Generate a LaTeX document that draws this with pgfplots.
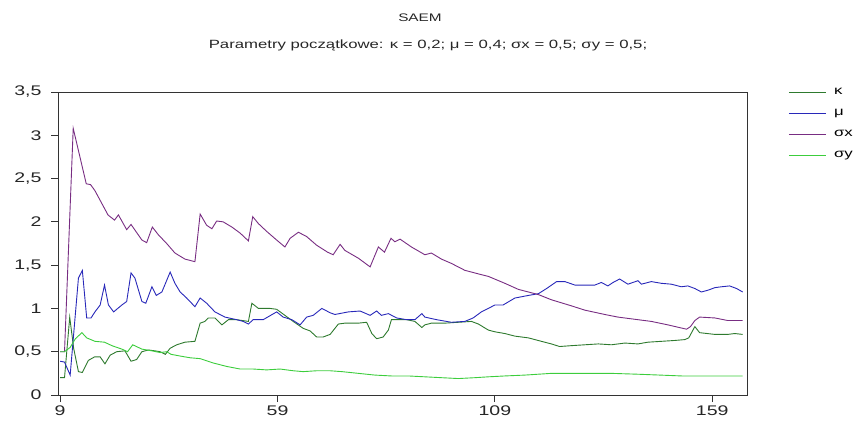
\documentclass[border=0pt]{standalone}
\usepackage{pgfplots}
\pgfplotsset{compat=1.18}
\usepackage{fontspec}
\setmainfont[FakeStretch=1.4]{Liberation Sans}
\definecolor{kap}{RGB}{46,122,46}
\definecolor{muc}{RGB}{40,40,185}
\definecolor{sgx}{RGB}{120,45,130}
\definecolor{sgy}{RGB}{60,205,60}
\begin{document}
\begin{tikzpicture}
\begin{axis}[name=ax, scale only axis, width=689bp, height=303bp,
  xmin=8.5, xmax=167, ymin=0, ymax=3.5,
  xtick={9,59,109,159}, ytick={0,0.5,1,1.5,2,2.5,3,3.5},
  tick align=outside, xtick pos=bottom, ytick pos=left,
  major tick length=7bp,
  axis line style={black!80, line width=0.8bp},
  every tick/.style={black!80, line width=0.8bp},
  /pgf/number format/assume math mode=true,
  /pgf/number format/use comma,
  /pgf/number format/fixed,
  ticklabel style={font=\fontsize{14}{14}\selectfont, text=black!85},
  yticklabel style={xshift=-6bp},
  legend style={at={(1,1)}, anchor=north west, xshift=40bp, yshift=5.5bp, draw=none, fill=none,
    font=\fontsize{12}{12}\selectfont, row sep=12bp, column sep=7bp, inner sep=1bp,
    nodes={inner sep=0.5bp, text height=6.5bp, text depth=1.5bp}},
  legend cell align=left,
  legend image code/.code={\draw[#1, line width=1.3bp] (0bp,0bp) -- (37bp,0bp);},
  every axis plot/.append style={line width=0.9bp},
]
\addplot[kap] coordinates {(9,0.2) (10,0.2) (11.2,0.9) (12.1,0.54) (13.2,0.27) (14.1,0.26) (15.5,0.40) (16.9,0.44) (18.2,0.44) (19.3,0.36) (20.5,0.46) (22,0.50) (23.9,0.51) (25.3,0.39) (26.6,0.41) (27.8,0.50) (29.3,0.52) (30.8,0.51) (32,0.50) (33.2,0.47) (34.3,0.54) (35.8,0.58) (37.7,0.61) (40,0.62) (41.2,0.83) (42.3,0.85) (43.1,0.89) (44.6,0.89) (46.2,0.81) (47.7,0.87) (49.6,0.87) (52.3,0.85) (53.1,1.06) (54.6,1.0) (57.3,1.0) (58.8,0.99) (60.7,0.92) (62.6,0.85) (64.9,0.77) (66.5,0.74) (68,0.67) (69.5,0.67) (71.1,0.70) (73,0.82) (74.5,0.83) (77.6,0.83) (79.5,0.84) (80.7,0.71) (81.8,0.65) (83.3,0.67) (84.5,0.75) (85.2,0.87) (86.8,0.87) (88.7,0.87) (90.6,0.85) (92.2,0.78) (92.9,0.81) (94.4,0.83) (97.5,0.83) (100.6,0.84) (103.6,0.85) (105.2,0.82) (107.5,0.75) (109,0.73) (111.3,0.71) (113.6,0.68) (116.7,0.66) (119.7,0.62) (122,0.59) (123.9,0.56) (126.6,0.57) (129.7,0.58) (132.8,0.59) (135.8,0.58) (138.9,0.60) (141.9,0.59) (144.2,0.61) (147.3,0.62) (150.4,0.63) (152.7,0.64) (153.6,0.66) (155,0.79) (156.1,0.72) (159.6,0.70) (162.6,0.70) (164.2,0.71) (166,0.70)};
\addlegendentry{κ}
\addplot[muc] coordinates {(9,0.39) (10,0.38) (11.3,0.23) (13.2,1.35) (14.1,1.44) (15.1,0.89) (16.1,0.89) (17,0.96) (18.2,1.04) (19.2,1.27) (20.1,1.04) (21.3,0.96) (23.2,1.04) (24.3,1.08) (25.3,1.41) (26.2,1.35) (27.8,1.08) (28.7,1.06) (30.1,1.25) (31.1,1.15) (32.4,1.19) (34.3,1.42) (35.4,1.29) (36.6,1.19) (38.1,1.12) (40,1.02) (41.2,1.12) (42.7,1.06) (44.6,0.96) (46.9,0.90) (49.6,0.87) (51.1,0.85) (52.3,0.82) (53.4,0.87) (55.7,0.87) (58.8,0.96) (60.3,0.90) (62.3,0.87) (64.2,0.81) (65.7,0.90) (67.2,0.92) (69.2,1.0) (71.1,0.95) (72.2,0.93) (75.3,0.96) (78,0.97) (80.3,0.92) (81.8,0.97) (82.9,0.92) (84.5,0.94) (86.4,0.89) (88.7,0.87) (90.6,0.87) (92.2,0.94) (92.9,0.90) (95.6,0.87) (99,0.84) (102.1,0.85) (104,0.89) (105.9,0.96) (107.5,1.0) (109,1.04) (110.9,1.04) (113.6,1.12) (116.7,1.15) (119,1.17) (120.9,1.23) (123.2,1.31) (125.1,1.31) (127.4,1.27) (129.7,1.27) (132,1.27) (133.5,1.30) (135,1.26) (136.2,1.30) (137.7,1.34) (139.6,1.28) (141.9,1.32) (142.7,1.28) (145,1.31) (147.3,1.29) (149.6,1.28) (151.9,1.25) (153.4,1.26) (155,1.23) (156.5,1.19) (158,1.21) (159.6,1.24) (161.1,1.25) (163,1.26) (164.6,1.23) (166,1.19)};
\addlegendentry{μ}
\addplot[sgx] coordinates {(9,0.5) (10,0.5) (12,3.08) (15,2.44) (16,2.43) (17,2.36) (20,2.08) (21.5,2.02) (22.4,2.08) (24.3,1.91) (25.3,1.97) (27.8,1.79) (28.9,1.76) (30.2,1.94) (31.6,1.85) (33.5,1.75) (35.4,1.64) (37.7,1.57) (40,1.54) (41.2,2.09) (42.7,1.96) (43.9,1.92) (45,2.01) (46.5,2.0) (48.5,1.94) (50.4,1.87) (52.3,1.78) (53.3,2.06) (54.6,1.98) (56.5,1.89) (58.8,1.79) (60.7,1.71) (61.9,1.81) (63.8,1.88) (65.7,1.83) (68,1.73) (70.5,1.65) (71.8,1.62) (73.4,1.74) (74.5,1.67) (77.6,1.58) (80.3,1.48) (82.2,1.71) (83.6,1.65) (85.1,1.81) (86,1.77) (87.2,1.80) (89.8,1.71) (92.9,1.62) (94.4,1.64) (96.7,1.57) (99,1.52) (102.1,1.44) (105.9,1.39) (107.5,1.37) (111.3,1.29) (114.4,1.22) (119,1.16) (122,1.10) (126.6,1.03) (129.7,0.98) (134.3,0.93) (137.3,0.90) (141.9,0.87) (145,0.85) (148.8,0.81) (153.1,0.76) (154,0.79) (155,0.86) (156.1,0.90) (159.6,0.89) (162.6,0.86) (166,0.86)};
\addlegendentry{σx}
\addplot[sgy] coordinates {(9,0.5) (10,0.5) (11.3,0.55) (12.5,0.65) (14,0.72) (15.1,0.66) (17,0.62) (19.2,0.61) (20.9,0.57) (23.2,0.53) (24.5,0.50) (25.7,0.58) (27.8,0.53) (30.1,0.51) (32,0.49) (33.5,0.50) (34.5,0.47) (36.6,0.45) (38.9,0.43) (41.2,0.42) (44.2,0.37) (47.3,0.33) (50.4,0.30) (53.4,0.30) (56.5,0.29) (59.6,0.30) (62.6,0.28) (64.9,0.27) (68,0.28) (71.1,0.28) (73.8,0.27) (77.6,0.25) (81.4,0.23) (85.2,0.22) (89.1,0.22) (92.9,0.21) (96.7,0.20) (100.6,0.19) (104.4,0.20) (107.5,0.21) (111.3,0.22) (115.9,0.23) (122,0.25) (126.6,0.25) (131.2,0.25) (135.8,0.25) (141.9,0.24) (147,0.23) (152,0.22) (158,0.22) (166,0.22)};
\addlegendentry{σy}
\end{axis}
\node[font=\fontsize{11}{11}\selectfont, text=black!85] at ([shift={(362bp,377bp)}]ax.south west) {SAEM};
\node[font=\fontsize{12}{12}\selectfont, text=black!85] at ([shift={(370bp,350bp)}]ax.south west) {Parametry początkowe: κ = 0,2; μ = 0,4; σx = 0,5; σy = 0,5;};
\path ([shift={(-58bp,-29bp)}]ax.south west) rectangle ([shift={(798bp,395bp)}]ax.south west);
\end{tikzpicture}
\end{document}
